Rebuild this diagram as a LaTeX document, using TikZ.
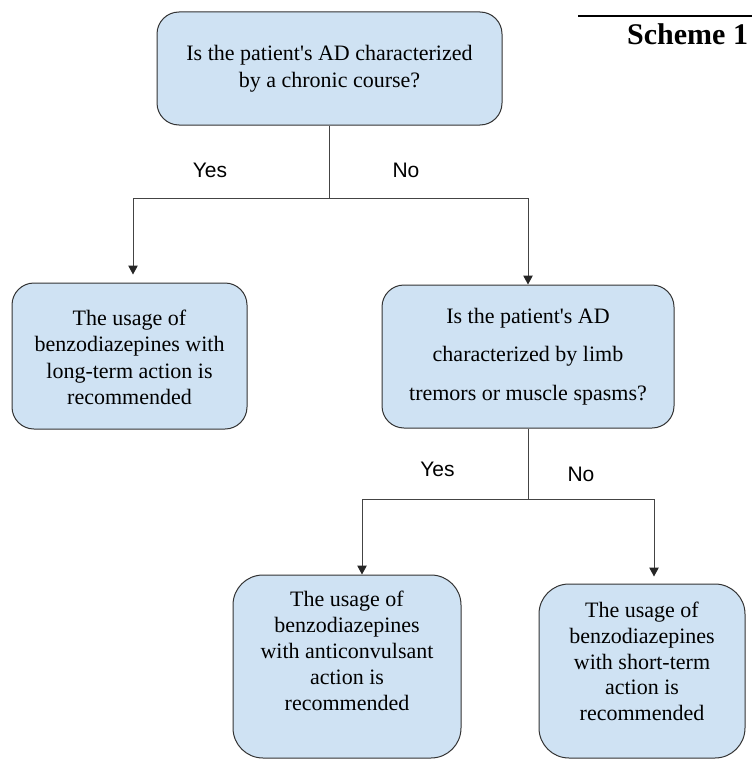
\documentclass[tikz,border=0pt]{standalone}
\usepackage{fontspec}
\setmainfont{Liberation Serif}[Ligatures=TeXOff]
\newfontfamily\labfont{Liberation Sans}
\usetikzlibrary{arrows.meta}
\definecolor{boxfill}{HTML}{CFE2F3}
\definecolor{edgec}{HTML}{333333}
\definecolor{linec}{HTML}{444444}
\begin{document}
\begin{tikzpicture}[x=1pt,y=-1pt,
 box/.style={draw=edgec, line width=1pt, fill=boxfill, rounded corners=22pt, inner sep=0pt},
 txt/.style={align=center, text=black, font=\fontsize{22}{26.5}\selectfont, inner sep=0pt},
 lab/.style={font=\labfont\fontsize{21}{24}\selectfont, inner sep=0pt},
 conn/.style={draw=linec, line width=1pt},
 arr/.style={conn, -{Triangle[length=9pt,width=9.5pt,color=black!85]}},
]
\useasboundingbox (0,0) rectangle (752,760);

% boxes
\node[box, minimum width=345pt, minimum height=113pt] (q1) at (329.5,68.5) {};
\node[txt] (q1t) at (329.5,68.5) {Is the patient's AD characterized\\by a chronic course?};

\node[box, minimum width=235pt, minimum height=146pt] (a1) at (129.5,356) {};
\node[txt] (a1t) at (129.5,357.5) {The usage of\\benzodiazepines with\\long-term action is\\recommended};

\node[box, minimum width=292pt, minimum height=143pt] (q2) at (528,356.5) {};
\node[txt, font=\fontsize{22}{38.5}\selectfont] (q2t) at (528,356.5) {Is the patient's AD\\characterized by limb\\tremors or muscle spasms?};

\node[box, rounded corners=30pt, minimum width=228pt, minimum height=183pt] (a2) at (347,666.5) {};
\node[txt, font=\fontsize{22}{26}\selectfont] (a2t) at (347,651) {The usage of\\benzodiazepines\\with anticonvulsant\\action is\\recommended};

\node[box, rounded corners=30pt, minimum width=206pt, minimum height=174pt] (a3) at (642,671) {};
\node[txt, font=\fontsize{22}{25.75}\selectfont] (a3t) at (642,661.5) {The usage of\\benzodiazepines\\with short-term\\action is\\recommended};

% labels
\node[lab] (y1) at (210,170) {Yes};
\node[lab] (n1) at (406,170) {No};
\node[lab] (y2) at (437.5,469) {Yes};
\node[lab] (n2) at (581,474) {No};

% connectors
\coordinate (j1) at (329.5,198);
\coordinate (j1L) at (133,198);
\coordinate (j1R) at (528,198);
\draw[conn] (q1.south) -- (j1);
\draw[conn] (j1L) -- (j1R);
\draw[arr, shorten >=8pt] (j1L) -- (j1L |- a1.north);
\draw[arr] (j1R) -- (q2.north);

\coordinate (j2) at (528,499);
\coordinate (j2L) at (362,499);
\coordinate (j2R) at (654,499);
\draw[conn] (q2.south) -- (j2);
\draw[conn] (j2L) -- (j2R);
\draw[arr] (j2L) -- (j2L |- a2.north);
\draw[arr, shorten >=7pt] (j2R) -- (j2R |- a3.north);

% scheme heading
\coordinate (rl) at (578,16);
\coordinate (rr) at (752,16);
\draw[line width=1.6pt] (rl) -- (rr);
\node[anchor=west, inner sep=0pt, font=\bfseries\fontsize{30}{30}\selectfont] (sch) at (627,34) {Scheme 1};
\end{tikzpicture}
\end{document}
